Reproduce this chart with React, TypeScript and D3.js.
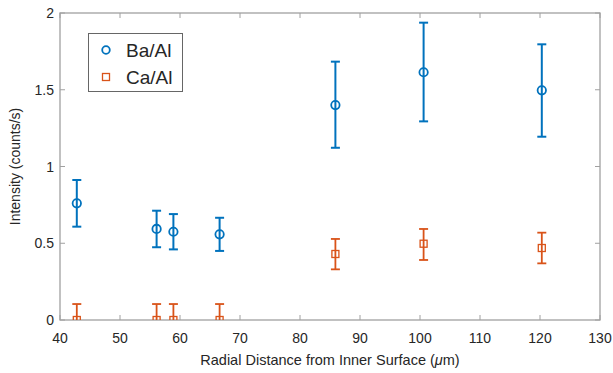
import React from "react";
import * as d3 from "d3";

const xTicks = [40, 50, 60, 70, 80, 90, 100, 110, 120, 130];
const yTicks = [0, 0.5, 1, 1.5, 2];
const yTickLabels = ["0", "0.5", "1", "1.5", "2"];

const baX = [42.8, 56.1, 58.9, 66.6, 85.9, 100.6, 120.3];
const baY = [0.76, 0.593, 0.575, 0.558, 1.40, 1.614, 1.496];
const baLo = [0.608, 0.474, 0.46, 0.45, 1.122, 1.294, 1.194];
const baHi = [0.912, 0.712, 0.69, 0.666, 1.683, 1.937, 1.796];

const caX = [42.8, 56.1, 58.9, 66.6, 85.9, 100.6, 120.3];
const caY = [0, 0, 0, 0, 0.43, 0.497, 0.469];
const caLo = [-0.104, -0.104, -0.104, -0.104, 0.33, 0.391, 0.369];
const caHi = [0.104, 0.104, 0.104, 0.104, 0.528, 0.593, 0.569];

const BLUE = "#0072BD";
const ORANGE = "#D95319";

export default function App() {
  const W = 613, H = 373;
  const L = 60, R = 600, T = 13, B = 320;
  const x = d3.scaleLinear().domain([40, 130]).range([L, R]);
  const y = d3.scaleLinear().domain([0, 2]).range([B, T]);
  const axisColor = "#a0a0a0";
  const textColor = "#262626";
  const font = "Arial, 'Liberation Sans', Helvetica, sans-serif";
  const capW = 4.5;

  const errBars = (xs: number[], lo: number[], hi: number[], color: string, sw: number) =>
    xs.map((v, i) => (
      <g key={i} stroke={color} strokeWidth={sw} fill="none">
        <line x1={x(v)} x2={x(v)} y1={y(lo[i])} y2={y(hi[i])} />
        <line x1={x(v) - capW} x2={x(v) + capW} y1={y(lo[i])} y2={y(lo[i])} />
        <line x1={x(v) - capW} x2={x(v) + capW} y1={y(hi[i])} y2={y(hi[i])} />
      </g>
    ));

  return (
    <svg width={W} height={H} style={{ position: "absolute", left: 0, top: 0, background: "#fff" }}>
      <defs>
        <clipPath id="plotClip">
          <rect x={L} y={T} width={R - L} height={B - T} />
        </clipPath>
      </defs>
      <rect x={0} y={0} width={W} height={H} fill="#fff" />
      <rect x={L} y={T} width={R - L} height={B - T} fill="none" stroke={axisColor} strokeWidth={1.3} />
      {xTicks.map((t) => (
        <g key={"xt" + t}>
          <line x1={x(t)} x2={x(t)} y1={B} y2={B - 5} stroke={axisColor} strokeWidth={1} />
          <line x1={x(t)} x2={x(t)} y1={T} y2={T + 5} stroke={axisColor} strokeWidth={1} />
          <text x={x(t)} y={343} textAnchor="middle" fontSize={14} fontFamily={font} fill={textColor}>{t}</text>
        </g>
      ))}
      {yTicks.map((t, i) => (
        <g key={"yt" + t}>
          <line x1={L} x2={L + 5} y1={y(t)} y2={y(t)} stroke={axisColor} strokeWidth={1} />
          <line x1={R} x2={R - 5} y1={y(t)} y2={y(t)} stroke={axisColor} strokeWidth={1} />
          <text x={L - 6} y={y(t) + 5} textAnchor="end" fontSize={14} fontFamily={font} fill={textColor}>{yTickLabels[i]}</text>
        </g>
      ))}
      <g clipPath="url(#plotClip)">
        {errBars(caX, caLo, caHi, ORANGE, 1.8)}
        {caX.map((v, i) => (
          <rect key={"cm" + i} x={x(v) - 3.5} y={y(caY[i]) - 3.5} width={7} height={7} fill="none" stroke={ORANGE} strokeWidth={1.3} />
        ))}
        {errBars(baX, baLo, baHi, BLUE, 2)}
        {baX.map((v, i) => (
          <circle key={"bm" + i} cx={x(v)} cy={y(baY[i])} r={4.2} fill="none" stroke={BLUE} strokeWidth={1.8} />
        ))}
      </g>
      <rect x={88.5} y={33.5} width={94} height={58} fill="#fff" stroke="#666" strokeWidth={1} />
      <circle cx={106} cy={50} r={3.8} fill="none" stroke={BLUE} strokeWidth={1.8} />
      <text x={126} y={57} fontSize={19} fontFamily={font} fill={textColor}>Ba/Al</text>
      <rect x={102.5} y={73.5} width={7} height={7} fill="none" stroke={ORANGE} strokeWidth={1.3} />
      <text x={126} y={84} fontSize={19} fontFamily={font} fill={textColor}>Ca/Al</text>
      <text x={330} y={365} textAnchor="middle" fontSize={14.5} fontFamily={font} fill={textColor}>
        Radial Distance from Inner Surface (<tspan fontStyle="italic">μ</tspan>m)
      </text>
      <text transform={`translate(20,${(T + B) / 2}) rotate(-90)`} textAnchor="middle" fontSize={14} fontFamily={font} fill={textColor}>
        Intensity (counts/s)
      </text>
    </svg>
  );
}
